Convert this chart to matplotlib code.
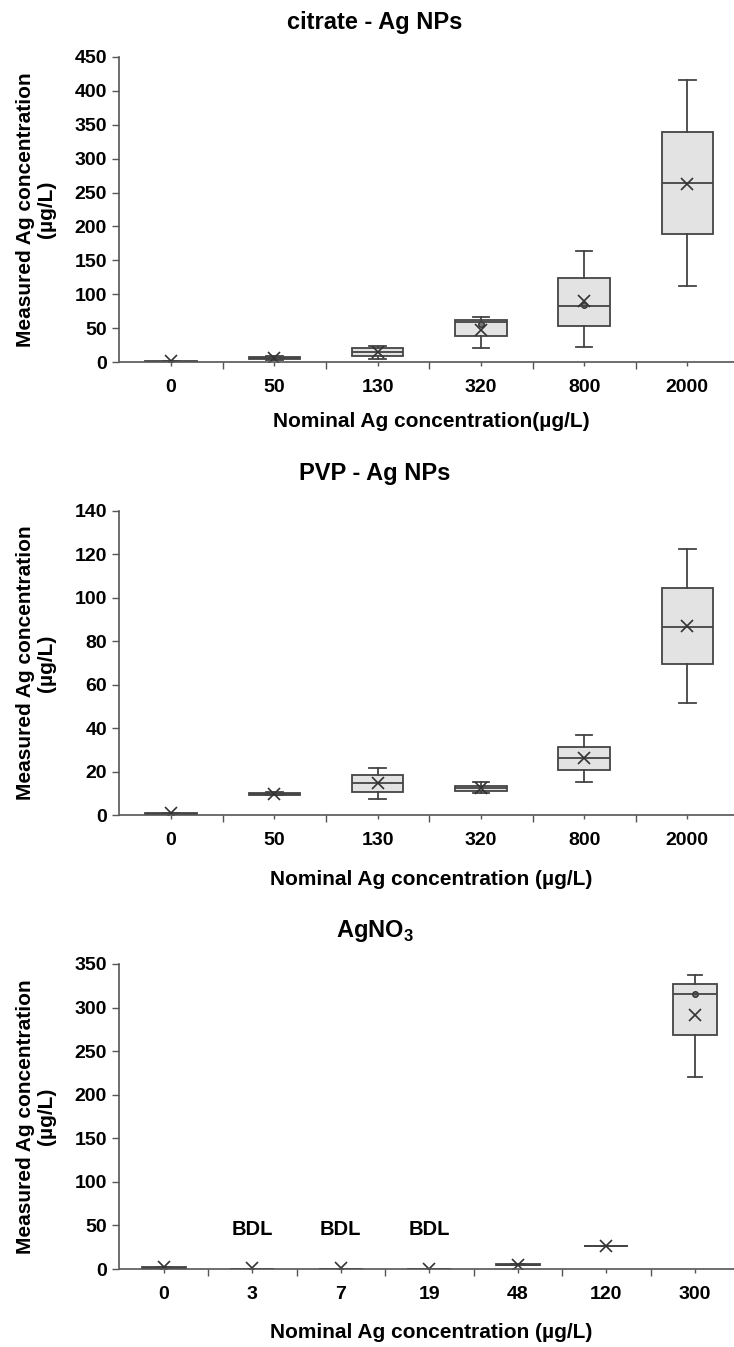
import numpy as np
import matplotlib
matplotlib.use('Agg')
import matplotlib.pyplot as plt

plt.rcParams['font.family'] = ['Liberation Sans', 'DejaVu Sans']
plt.rcParams['font.weight'] = 'bold'
plt.rcParams['mathtext.fontset'] = 'custom'
plt.rcParams['mathtext.rm'] = 'Liberation Sans:bold'
plt.rcParams['mathtext.bf'] = 'Liberation Sans:bold'

nan = np.nan

# citrate - Ag NPs
cit_labels = ['0', '50', '130', '320', '800', '2000']
cit_lo = [0.5, 4.0, 4.5, 20.5, 23.0, 112.0]
cit_q1 = [0.5, 5.5, 9.5, 39.0, 53.5, 188.5]
cit_med = [1.0, 7.0, 15.5, 60.0, 83.0, 263.5]
cit_q3 = [1.5, 8.5, 20.5, 62.5, 123.5, 339.0]
cit_hi = [1.5, 9.5, 24.5, 66.0, 164.0, 415.0]
cit_mean = [2.0, 7.0, 15.0, 48.0, 91.0, 262.0]
cit_dot = [nan, nan, nan, 57.0, 84.0, nan]

# PVP - Ag NPs
pvp_labels = ['0', '50', '130', '320', '800', '2000']
pvp_lo = [0.3, 9.0, 7.2, 10.3, 15.3, 51.7]
pvp_q1 = [0.3, 9.3, 10.7, 11.2, 20.6, 69.4]
pvp_med = [0.5, 9.7, 14.9, 12.4, 26.4, 86.7]
pvp_q3 = [0.7, 10.1, 18.4, 13.5, 31.4, 104.6]
pvp_hi = [0.7, 10.4, 21.8, 15.0, 37.0, 122.3]
pvp_mean = [1.0, 9.7, 14.6, 12.5, 26.2, 87.0]
pvp_dot = [nan] * 6

# AgNO3
no3_labels = ['0', '3', '7', '19', '48', '120', '300']
no3_lo = [1.5, 0.0, 0.0, 0.0, 4.5, 26.0, 220.0]
no3_q1 = [1.5, 0.0, 0.0, 0.0, 4.5, 26.0, 269.0]
no3_med = [1.5, 0.0, 0.0, 0.0, 5.0, 26.0, 316.0]
no3_q3 = [2.0, 0.3, 0.3, 0.3, 5.5, 26.0, 327.0]
no3_hi = [2.0, 0.3, 0.3, 0.3, 5.5, 26.0, 337.0]
no3_mean = [2.0, 1.0, 1.0, 0.5, 5.0, 26.0, 291.0]
no3_dot = [nan, nan, nan, nan, nan, nan, 316.0]
bdl_idx = [1, 2, 3]

edge = '#444444'
face = '#e3e3e3'

fig = plt.figure(figsize=(7.34, 13.47), dpi=100)
H = 1347.0
W = 734.0


def panel(top_px, bot_px, labels, lo, q1, med, q3, hi, mean, dot, ymax, ystep,
          title, title_y, xlab_y, xlab):
    n = len(labels)
    ax = fig.add_axes([119.5 / W, 1 - bot_px / H, (739 - 119.5) / W, (bot_px - top_px) / H])
    stats = []
    for i in range(n):
        stats.append(dict(whislo=lo[i], q1=q1[i], med=med[i], q3=q3[i], whishi=hi[i],
                          mean=mean[i], fliers=[]))
    ax.bxp(stats, positions=range(n), widths=0.5, patch_artist=True, showmeans=True,
           showfliers=False, capwidths=0.16,
           boxprops=dict(facecolor=face, edgecolor=edge, linewidth=1.3),
           whiskerprops=dict(color=edge, linewidth=1.3),
           capprops=dict(color=edge, linewidth=1.3),
           medianprops=dict(color=edge, linewidth=1.3),
           meanprops=dict(marker='x', markersize=8, markeredgecolor='#333333',
                          markeredgewidth=1.2))
    ax.plot(range(n), dot, 'o', ms=4, mfc='#777777', mec='#333333', mew=1.0)
    ax.set_xlim(-0.5, n - 0.5)
    ax.set_ylim(0, ymax)
    ax.set_yticks(np.arange(0, ymax + 1, ystep))
    ax.set_xticks(np.arange(0.5, n, 1.0))
    ax.set_xticklabels([])
    ax.set_xticks(range(n), labels, minor=True)
    ax.tick_params(axis='x', which='major', length=5, width=1, color='#555555')
    ax.tick_params(axis='x', which='minor', length=3, width=1, color='#555555',
                   labelsize=14, pad=9)
    ax.tick_params(axis='y', length=5, width=1, color='#555555', labelsize=14, pad=4)
    for s in ['top', 'right']:
        ax.spines[s].set_visible(False)
    for s in ['left', 'bottom']:
        ax.spines[s].set_color('#555555')
        ax.spines[s].set_linewidth(1.2)
    fig.text(375 / W, 1 - title_y / H, title, ha='center', va='center', fontsize=17,
             fontweight='bold')
    fig.text(431.5 / W, 1 - xlab_y / H, xlab, ha='center', va='center', fontsize=15,
             fontweight='bold')
    fig.text(36 / W, 1 - (top_px + bot_px) / 2 / H, 'Measured Ag concentration\n(\u00b5g/L)',
             ha='center', va='center', rotation=90, fontsize=15, fontweight='bold',
             linespacing=1.15)
    return ax


panel(56.7, 362.3, cit_labels, cit_lo, cit_q1, cit_med, cit_q3, cit_hi, cit_mean, cit_dot,
      450, 50, 'citrate - Ag NPs', 22, 421.7, 'Nominal Ag concentration(\u00b5g/L)')
panel(510.9, 815.0, pvp_labels, pvp_lo, pvp_q1, pvp_med, pvp_q3, pvp_hi, pvp_mean, pvp_dot,
      140, 20, 'PVP - Ag NPs', 473.3, 879.3, 'Nominal Ag concentration (\u00b5g/L)')
ax3 = panel(964.0, 1269.0, no3_labels, no3_lo, no3_q1, no3_med, no3_q3, no3_hi, no3_mean,
            no3_dot, 350, 50, r'AgNO$_\mathbf{3}$', 931, 1332.7,
            'Nominal Ag concentration (\u00b5g/L)')
for i in bdl_idx:
    ax3.text(i, 45.5, 'BDL', ha='center', va='center', fontsize=14.5, fontweight='bold')

fig.savefig('out.png', dpi=100)
